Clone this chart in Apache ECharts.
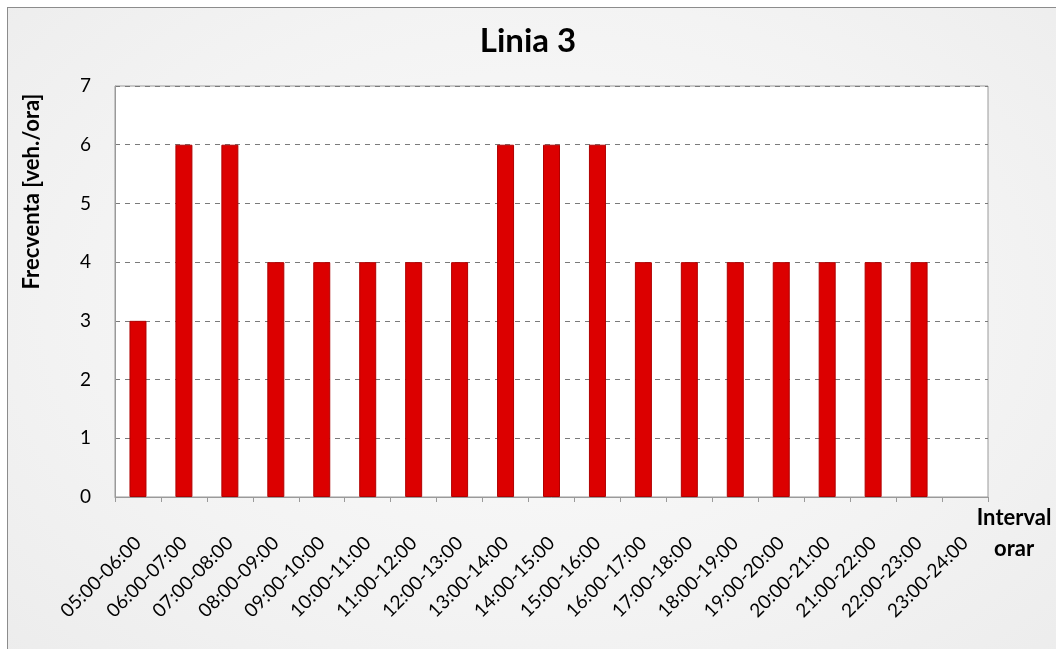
<!DOCTYPE html>
<html>
<head>
<meta charset="utf-8">
<script src="https://cdn.jsdelivr.net/npm/echarts@6/dist/echarts.min.js"></script>
<style>
html,body{margin:0;padding:0;background:#fff;}
#frame{position:absolute;left:7px;top:7px;width:1060px;height:660px;border:1.5px solid #8c8c8c;
background:radial-gradient(ellipse at 50% 45%, #fbfbfb 0%, #f3f3f3 60%, #ececec 100%);}
#chart{position:absolute;left:0;top:0;width:1056px;height:649px;}
</style>
</head>
<body>
<div id="frame"></div>
<div id="chart"></div>
<script>
const title = 'Linia 3';
const yAxisName = 'Frecventa [veh./ora]';
const xAxisName = 'Interval\norar';
const categories = ['05:00-06:00','06:00-07:00','07:00-08:00','08:00-09:00','09:00-10:00','10:00-11:00','11:00-12:00','12:00-13:00','13:00-14:00','14:00-15:00','15:00-16:00','16:00-17:00','17:00-18:00','18:00-19:00','19:00-20:00','20:00-21:00','21:00-22:00','22:00-23:00','23:00-24:00'];
const values = [3,6,6,4,4,4,4,4,6,6,6,4,4,4,4,4,4,4,null];

const font = 'Lato, "Open Sans", sans-serif';
const chart = echarts.init(document.getElementById('chart'), null, {renderer:'canvas'});
chart.setOption({
  backgroundColor: 'transparent',
  animation: false,
  title: {
    text: title, left: 'center', top: 20,
    textStyle: {fontFamily: font, fontSize: 33, fontWeight: 'bold', color: '#000'}
  },
  grid: {left: 115, right: 68, top: 86, bottom: 152, outerBoundsMode: 'none', containLabel: false, show: true, backgroundColor: '#ffffff', borderColor: '#9a9a9a', borderWidth: 1},
  xAxis: {
    type: 'category', data: categories,
    name: xAxisName, nameLocation: 'end', nameGap: 18,
    nameTextStyle: {fontFamily: font, fontSize: 22, fontWeight: 'bold', color: '#000', align: 'center', verticalAlign: 'top', lineHeight: 31, padding: [5,0,0,0]},
    axisLine: {lineStyle: {color: '#9a9a9a', width: 1}},
    axisTick: {show: true, alignWithLabel: false, length: 5, lineStyle: {color: '#9a9a9a'}},
    axisLabel: {rotate: 45, margin: 43, interval: 0, fontFamily: font, fontSize: 19, color: '#000'}
  },
  yAxis: {
    type: 'value', min: 0, max: 7, interval: 1,
    name: yAxisName, nameLocation: 'middle', nameGap: 72, nameRotate: 90,
    nameTextStyle: {fontFamily: font, fontSize: 22, fontWeight: 'bold', color: '#000', padding: [0,0,0,200]},
    axisLine: {show: true, lineStyle: {color: '#9a9a9a'}},
    axisTick: {show: false},
    axisLabel: {fontFamily: font, fontSize: 19, color: '#000', margin: 24},
    splitLine: {show: true, lineStyle: {color: '#7a7a7a', type: [5,5], width: 1}}
  },
  series: [{
    type: 'bar', data: values, barWidth: 17,
    itemStyle: {color: '#dc0000', borderColor: '#b00000', borderWidth: 1}
  }]
});
</script>
</body>
</html>
